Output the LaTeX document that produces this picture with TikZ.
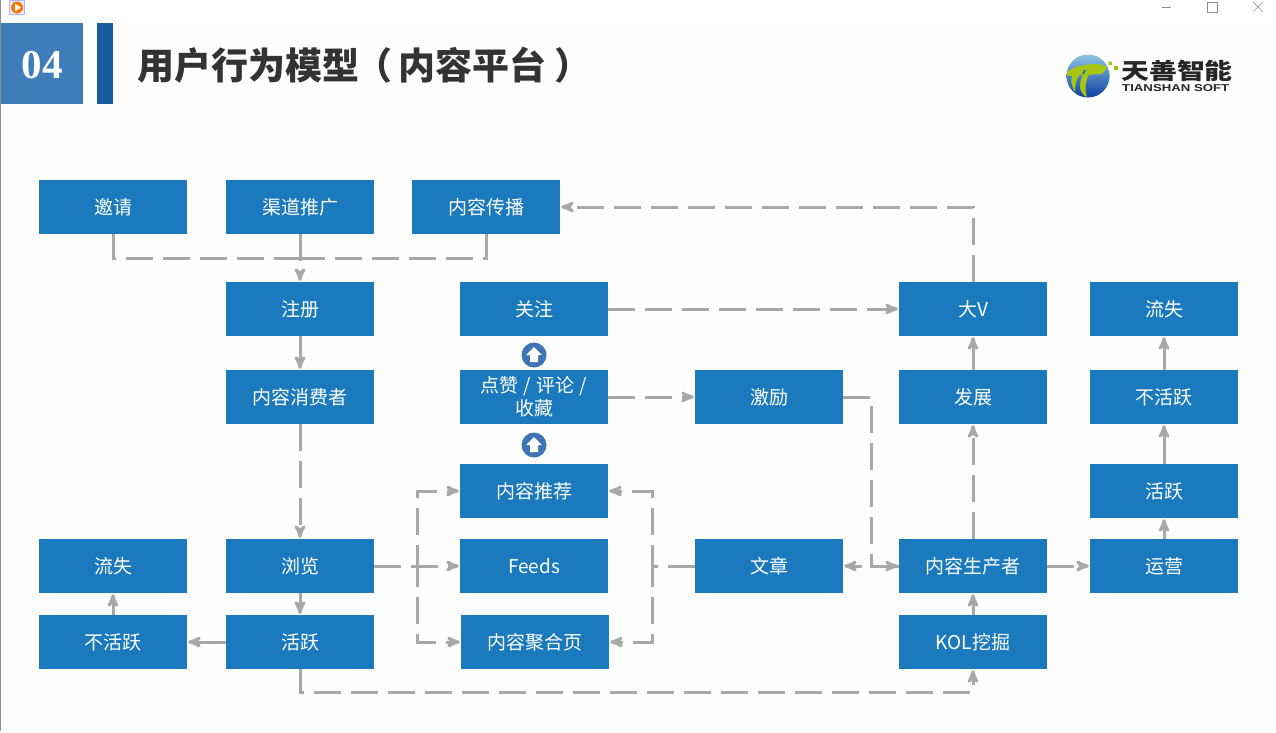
\documentclass[tikz,border=0pt]{standalone}
\usepackage{fontspec}
\setmainfont{Noto Sans CJK SC}
\newfontfamily\numfont{Liberation Serif}
\newfontfamily\latinfont[FakeStretch=1.32]{Liberation Sans}
\newfontfamily\logofont[FakeStretch=1.24]{Noto Sans CJK SC}
\usepackage{xcolor}
\usetikzlibrary{arrows}
\usetikzlibrary{calc}
\usetikzlibrary{positioning}
\definecolor{boxblue}{HTML}{1A7ABD}
\definecolor{linegray}{HTML}{A8A8A8}
\definecolor{headblue}{HTML}{3F7CBA}
\definecolor{bardark}{HTML}{185C9F}
\definecolor{roundblue}{HTML}{3F75B5}
\definecolor{logogreen}{HTML}{A6C512}
\definecolor{globetop}{HTML}{8CC4E6}
\definecolor{globemid}{HTML}{1670C4}
\definecolor{globelow}{HTML}{0B3F9E}

\begin{document}
\begin{tikzpicture}[x=1pt,y=-1pt,>=stealth',shorten >=1pt,node distance=88pt]
	\tikzstyle{vert}=[fill=boxblue, minimum width=148pt, minimum height=54pt, inner sep=0pt, text=white, align=center, font=\fontsize{19}{23}\selectfont]
	\tikzstyle{solidline}=[draw=linegray, line width=3pt, ->]
	\tikzstyle{dashline}=[solidline, dash pattern=on 27pt off 10pt]
	\tikzstyle{plainline}=[draw=linegray, line width=3pt, dash pattern=on 27pt off 10pt, shorten >=0pt]
	\tikzstyle{roundup}=[circle, fill=roundblue, minimum size=25pt, inner sep=0pt]
	\useasboundingbox (0,0) rectangle (1276,732);
	\fill[white] (0,0) rectangle (1276,732);
	\fill[black!.7] (1,23) rectangle (1276,732);
	\draw[black!45, line width=1pt] (.5,0) -- (.5,732);

	% window title bar
	\draw[blue!30!white, fill=blue!8!white] (9.5,.5) rectangle (24.5,14.5);
	\fill[orange!90!red] (17,7.5) circle (6pt);
	\fill[white] (15,3.5) -- (21,7.5) -- (15,11.5) -- cycle;
	\draw[black!45] (1162,7.5) -- (1172,7.5);
	\draw[black!45] (1207.5,2.5) rectangle (1217.5,12.5);
	\draw[black!45] (1253,2) -- (1263,12) (1263,2) -- (1253,12);

	% slide header
	\fill[headblue] (1,23) rectangle (83,104);
	\fill[bardark] (97,23) rectangle (113,104);
	\node[text=white, font=\numfont\fontsize{41}{41}\selectfont\bfseries] (num) at (42,65) {04};
	\node[anchor=west, text=black!80, inner sep=0pt, font=\fontsize{37}{37}\selectfont\bfseries] (title) at (137,65) {用户行为模型\hspace{-4pt}（\hspace{6pt}内容平台\hspace{8pt}）};

	% logo
	\shade[top color=globetop, middle color=globemid, bottom color=globelow] (1088,76) circle (21.5pt);
	\fill[logogreen] (1067,72) .. controls (1074,66) and (1086,64) .. (1098,64) -- (1108,67) -- (1102,74) -- (1067,76) -- cycle;
	\fill[logogreen] (1090,73) .. controls (1086,79) and (1084,88) .. (1087,97) .. controls (1080,94) and (1077,85) .. (1084,73) -- cycle;
	\fill[logogreen] (1080,74) .. controls (1076,79) and (1075,86) .. (1075,92) .. controls (1071,86) and (1070,79) .. (1073,74) -- cycle;
	\fill[globemid] (1082,74) -- (1084,70) -- (1086,70) -- (1084,74) -- cycle;
	\fill[logogreen] (1108.5,61.5) rectangle (1112,65) (1114,66) rectangle (1118,70);
	\node[anchor=west, inner sep=0pt, text=black!85, font=\logofont\fontsize{22.5}{23}\selectfont\bfseries] (logocn) at (1121,71) {天善智能};
	\node[anchor=west, inner sep=0pt, text=black!85, font=\latinfont\fontsize{10}{10}\selectfont\bfseries] (logoen) at (1122,88) {TIANSHAN SOFT};

	% boxes
	\node[vert] (yaoqing) at (113,207) {邀请};
	\node[vert] (qudao) at (300,207) {渠道推广};
	\node[vert] (chuanbo) at (486,207) {内容传播};
	\node[vert] (zhuce) at (300,309) {注册};
	\node[vert] (xiaofei) [below of=zhuce] {内容消费者};
	\node[vert] (liulan) at (300,566) {浏览};
	\node[vert] (huoyue) at (300,642) {活跃};
	\node[vert] (liushi) at (113,566) {流失};
	\node[vert] (buhuo) at (113,642) {不活跃};
	\node[vert] (guanzhu) at (534,309) {关注};
	\node[vert] (dianzan) [below of=guanzhu] {点赞\hspace{1pt} / \hspace{1pt}评论\hspace{1pt} /\\收藏};
	\node[vert] (tuijian) at (534,491) {内容推荐};
	\node[vert] (feeds) at (534,566) {Feeds};
	\node[vert] (juhe) at (535,642) {内容聚合页};
	\node[vert] (jili) at (769,397) {激励};
	\node[vert] (wenzhang) at (769,566) {文章};
	\node[vert] (dav) at (973,309) {大V};
	\node[vert] (fazhan) [below of=dav] {发展};
	\node[vert] (shengchan) at (973,566) {内容生产者};
	\node[vert] (kol) at (973,642) {KOL挖掘};
	\node[vert] (liushib) at (1164,309) {流失};
	\node[vert] (buhuob) [below of=liushib] {不活跃};
	\node[vert] (huoyueb) at (1164,491) {活跃};
	\node[vert] (yunying) at (1164,566) {运营};

	% round arrows between the blue boxes
	\node[roundup] (upa) at (534,355) {};
	\node[roundup] (upb) at (534,445) {};
	\foreach \n in {upa,upb}
		\fill[white] ($(\n)+(0,-8)$) -- ++(8,8) -- ++(-4,0) -- ++(0,7) -- ++(-8,0) -- ++(0,-7) -- ++(-4,0) -- cycle;

	% helper points of the elbows
	\coordinate (leftbus) at (417,566);
	\coordinate (rightbus) at (652,566);
	\coordinate (topjoin) at (300,258);

	\path
		(qudao) edge[dashline] (zhuce)
		(zhuce) edge[solidline] (xiaofei)
		(xiaofei) edge[dashline] (liulan)
		(liulan) edge[solidline] (huoyue)
		(huoyue) edge[solidline] (buhuo)
		(buhuo) edge[solidline] (liushi)
		(liulan) edge[dashline] (feeds)
		(dianzan) edge[dashline] (jili)
		(guanzhu) edge[dashline] (dav)
		(fazhan) edge[solidline] (dav)
		(shengchan) edge[dashline] (fazhan)
		(shengchan) edge[dashline] (yunying)
		(shengchan) edge[dashline] (wenzhang)
		(kol) edge[solidline] (shengchan)
		(yunying) edge[solidline] (huoyueb)
		(huoyueb) edge[solidline] (buhuob)
		(buhuob) edge[solidline] (liushib);

	\draw[plainline] (yaoqing.south) |- (topjoin);
	\draw[plainline] (chuanbo.south) |- (topjoin);
	\draw[dashline] (liulan.east) -- (leftbus) |- (tuijian.west);
	\draw[dashline] (liulan.east) -- (leftbus) |- (juhe.west);
	\draw[dashline] (wenzhang.west) -- (rightbus) |- (tuijian.east);
	\draw[dashline] (wenzhang.west) -- (rightbus) |- (juhe.east);
	\draw[dashline] (jili.east) -- ++(28,0) |- (shengchan.west);
	\draw[dashline] (dav.north) |- (chuanbo.east);
	\draw[dashline] (huoyue.south) -- ++(0,23) -| (kol.south);
\end{tikzpicture}
\end{document}
